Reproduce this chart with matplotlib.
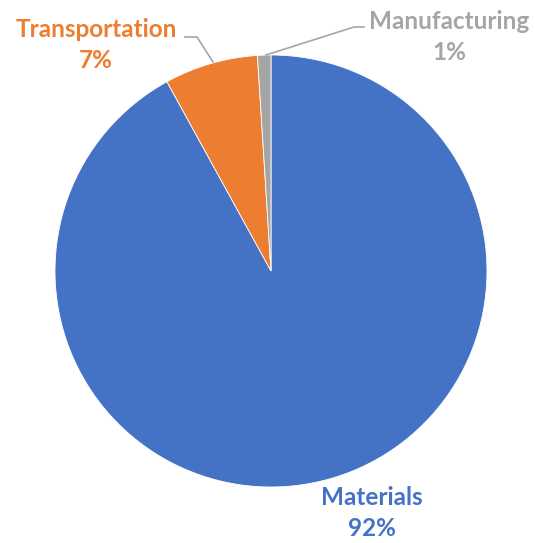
import matplotlib
matplotlib.use("Agg")
import matplotlib.pyplot as plt

categories = ["Materials", "Transportation", "Manufacturing"]
values = [92, 7, 1]
colors = ["#4472C4", "#ED7D31", "#A5A5A5"]

W, H = 535, 543
fig = plt.figure(figsize=(W / 100, H / 100), dpi=100)
ax = fig.add_axes([0, 0, 1, 1])

cx, cy, r = 271, H - 271, 216
ax.pie(values, colors=colors, startangle=90, counterclock=False,
       center=(cx, cy), radius=r, frame=True,
       wedgeprops=dict(linewidth=0.6, edgecolor="white"))
ax.set_xlim(0, W)
ax.set_ylim(0, H)
ax.axis("off")

font = dict(family=["Lato", "DejaVu Sans"], fontweight="bold", fontsize=17.5,
            ha="center", va="center", linespacing=1.45)
label_pos = [(372, H - 513), (96, H - 45), (449, H - 37)]
for cat, val, col, (x, y) in zip(categories, values, colors, label_pos):
    ax.text(x, y, f"{cat}\n{val}%", color=col, **font)

# leader lines
ax.plot([185, 197, 213], [H - 37, H - 37, H - 62], color="#A5A5A5", lw=1.2)
ax.plot([364, 354, 266], [H - 27, H - 27, H - 55], color="#A5A5A5", lw=1.2)

fig.savefig("out.png", dpi=100)
